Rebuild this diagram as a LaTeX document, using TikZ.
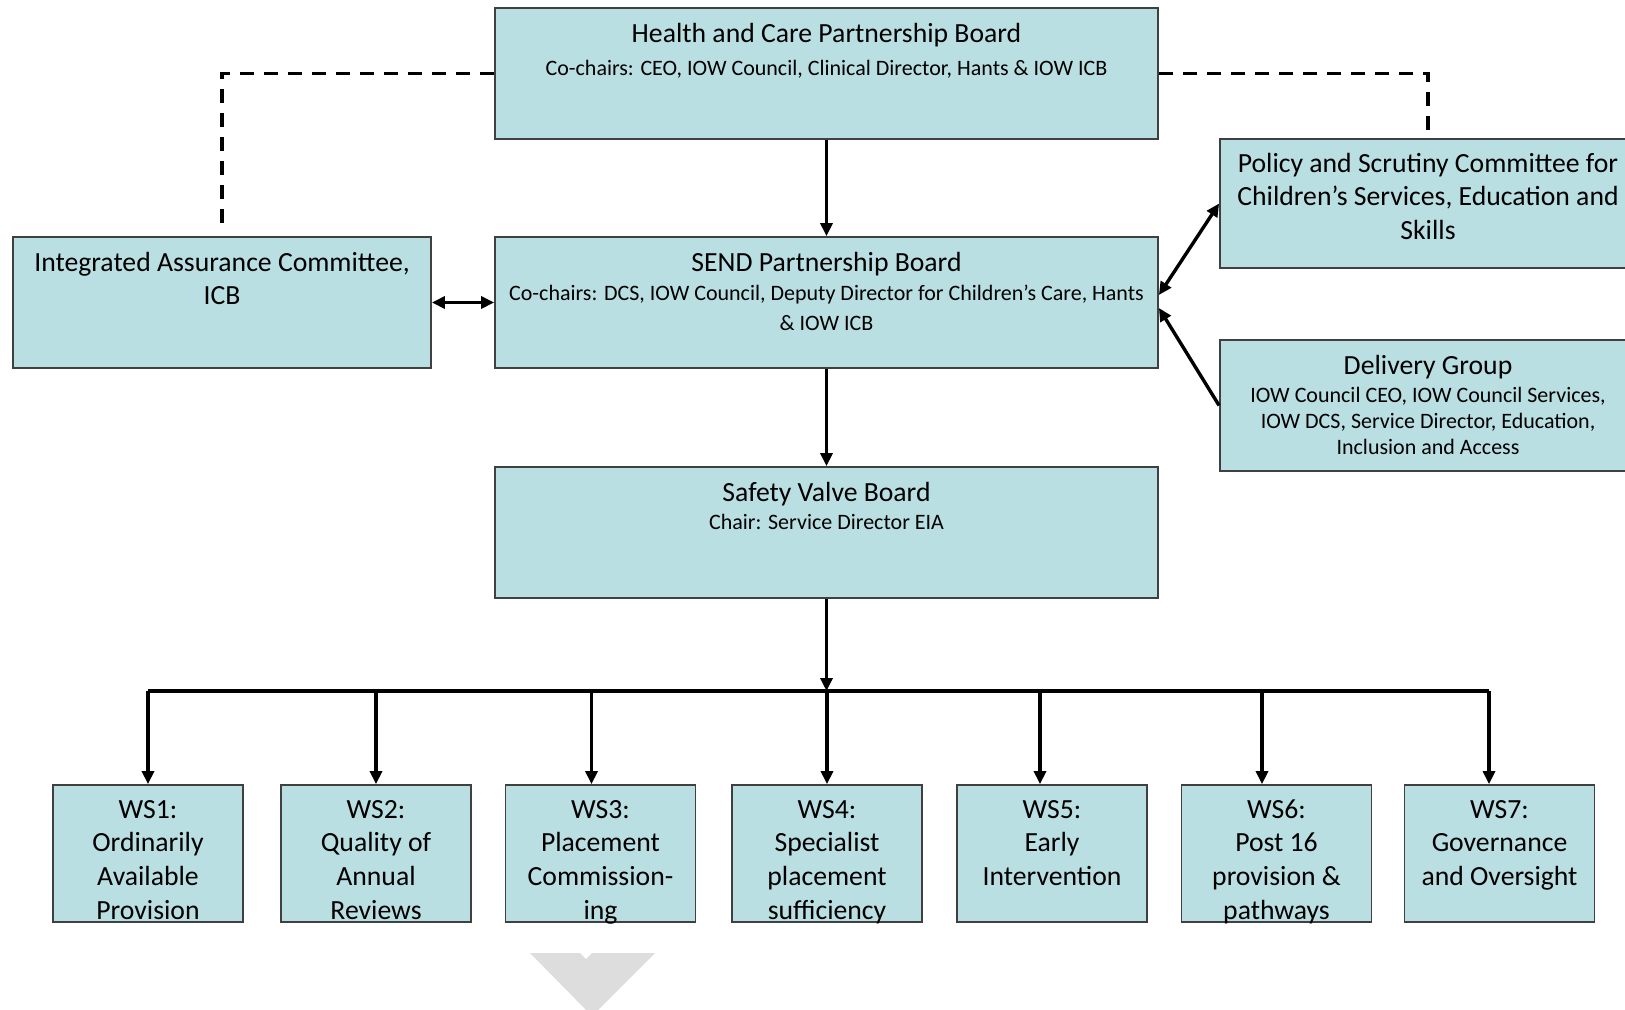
\documentclass[tikz,border=0pt]{standalone}
\usepackage{fontspec}
\setmainfont{Carlito}
\usetikzlibrary{arrows.meta, positioning}

\definecolor{boardfill}{RGB}{185,223,227}
\definecolor{chevgrey}{RGB}{221,221,221}
\newcommand{\boardsub}{\fontsize{11pt}{13pt}\selectfont}

\begin{document}
\begin{tikzpicture}[
    x=0.5pt, y=-0.5pt,
    box/.style={rectangle, draw=black!75, line width=0.9pt, fill=boardfill,
                align=center, inner xsep=2pt, inner ysep=0pt,
                font=\fontsize{13.85pt}{16.9pt}\selectfont},
    bigbox/.style={box, minimum width=331.5pt, minimum height=65.5pt},
    wsbox/.style={box, minimum width=95pt, minimum height=68.5pt},
    arrow/.style={-{Triangle[length=6.5pt, width=6pt]}, line width=1.7pt},
    twoway/.style={{Triangle[length=6.5pt, width=6pt]}-{Triangle[length=6.5pt, width=6pt]}, line width=1.7pt},
    dashline/.style={line width=1.7pt, dash pattern=on 7pt off 5pt}
]
    \clip (0,0) rectangle (1625,1009);

    % Boards down the middle
    \node[bigbox, text height=33.9pt, text depth=31.6pt] (hcpb) at (826.5,73.5)
        {Health and Care Partnership Board\\
        {\boardsub Co-chairs: CEO, IOW Council, Clinical Director, Hants \& IOW ICB}};
    \node[bigbox, text height=46.5pt, text depth=19pt] (send) at (826.5,302.5)
        {SEND Partnership Board\\[-2.4pt]
        {\boardsub Co-chairs: DCS, IOW Council, Deputy Director for Children’s Care, Hants}\\[-1.9pt]
        {\boardsub \& IOW ICB}};
    \node[bigbox, text height=31pt, text depth=34.5pt] (svb) at (826.5,532.5)
        {Safety Valve Board\\[-2.9pt]
        {\boardsub Chair: Service Director EIA}};

    % Side committees
    \node[box, minimum width=209pt, minimum height=65.5pt, text height=33.9pt, text depth=31.6pt]
        (iac) at (222,302.5) {Integrated Assurance Committee,\\ICB};
    \node[box, minimum width=208pt, minimum height=64.5pt, text height=50.3pt, text depth=14.2pt]
        (policy) at (1428,203.5) {Policy and Scrutiny Committee for\\Children’s Services, Education and\\Skills};
    \node[box, minimum width=208pt, minimum height=65.5pt, text height=57pt, text depth=8.5pt]
        (delivery) at (1428,405.5) {Delivery Group\\[-2.9pt]
        {\boardsub IOW Council CEO, IOW Council Services,}\\[-3.9pt]
        {\boardsub IOW DCS, Service Director, Education,}\\[-3.9pt]
        {\boardsub Inclusion and Access}};

    % Workstreams
    \node[wsbox, text height=67.2pt, text depth=1.3pt] (ws1) at (148,853.5) {WS1:\\Ordinarily\\Available\\Provision};
    \node[wsbox, text height=67.2pt, text depth=1.3pt] (ws2) at (376,853.5) {WS2:\\Quality of\\Annual\\Reviews};
    \node[wsbox, text height=67.2pt, text depth=1.3pt] (ws3) at (600.5,853.5) {WS3:\\Placement\\Commission-\\ing};
    \node[wsbox, text height=67.2pt, text depth=1.3pt] (ws4) at (827,853.5) {WS4:\\Specialist\\placement\\sufficiency};
    \node[wsbox, text height=50.3pt, text depth=18.2pt] (ws5) at (1052,853.5) {WS5:\\Early\\Intervention};
    \node[wsbox, text height=67.2pt, text depth=1.3pt] (ws6) at (1276.5,853.5) {WS6:\\Post 16\\provision \&\\pathways};
    \node[wsbox, text height=50.3pt, text depth=18.2pt] (ws7) at (1499.5,853.5) {WS7:\\Governance\\and Oversight};

    % Links between boards
    \draw[arrow] (hcpb) -- (send);
    \draw[arrow] (send) -- (svb);
    \draw[twoway] (iac) -- (send);
    \draw[twoway] ([yshift=3.75pt]send.east) -- (policy.west);
    \draw[arrow] (delivery.west) -- ([yshift=-2.75pt]send.east);
    \draw[dashline] (hcpb.west) -| ([yshift=5.5pt]iac.north);
    \draw[dashline] (hcpb.east) -| ([yshift=3.5pt]policy.north);

    % Bus down to the workstreams
    \coordinate (bus) at (826.5,691);
    \coordinate (d3) at ([xshift=-4.5pt]ws3.north);
    \coordinate (d5) at ([xshift=-6pt]ws5.north);
    \coordinate (d6) at ([xshift=-7.25pt]ws6.north);
    \coordinate (d7) at ([xshift=-5.25pt]ws7.north);
    \draw[arrow] (svb) -- (bus);
    \draw[line width=1.7pt] (ws1.north |- bus) -- (d7 |- bus);
    \draw[arrow] (ws1.north |- bus) -- (ws1.north);
    \draw[arrow] (ws2.north |- bus) -- (ws2.north);
    \draw[arrow] (d3 |- bus) -- (d3);
    \draw[arrow] (ws4.north |- bus) -- (ws4.north);
    \draw[arrow] (d5 |- bus) -- (d5);
    \draw[arrow] (d6 |- bus) -- (d6);
    \draw[arrow] (d7 |- bus) -- (d7);

    % grey marker below
    \fill[chevgrey] (530,953) -- (580,953) -- (586,959) -- (592,953) -- (655,953) -- (592,1016) -- cycle;
\end{tikzpicture}
\end{document}
